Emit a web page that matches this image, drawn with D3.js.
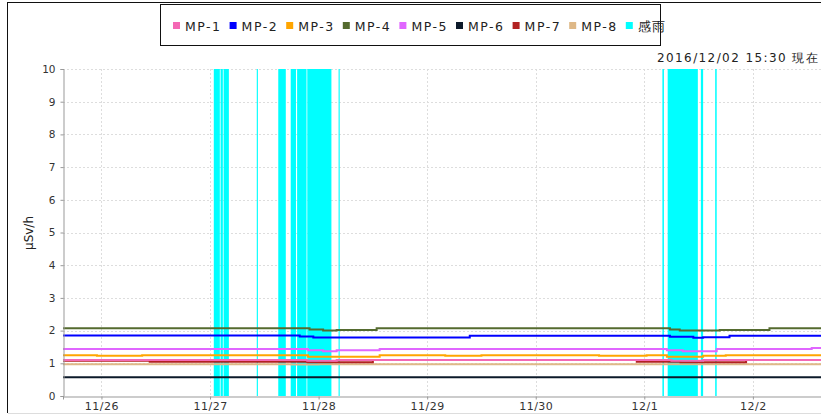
<!DOCTYPE html><html>
<head>
<meta charset="utf-8">
<title>MP</title>
<style>
  body { margin: 0; background: #fff; }
  svg { display: block; font-family: "DejaVu Sans", sans-serif; }
</style>
</head><body>
<svg width="821" height="416"></svg>

<script src="https://cdn.jsdelivr.net/npm/d3@7/dist/d3.min.js"></script>
<script>
// series names, legend order
var names  = ['MP-1', 'MP-2', 'MP-3', 'MP-4', 'MP-5', 'MP-6', 'MP-7', 'MP-8', '感雨'];
var colors = ['#f468b4', '#0000ff', '#ffa500', '#556b2f', '#e066ff', '#0c1a2a', '#b22222', '#deb887', '#00ffff'];

// change points [time, μSv/h], each value holds until the next point
var mp1 = [['11-25 15:30', 1.10], ['11-27 21:30', 1.08], ['11-28 04:00', 1.10], ['12-01 06:00', 1.08], ['12-01 13:00', 1.10]];
var mp2 = [['11-25 15:30', 1.85], ['11-27 19:50', 1.82], ['11-27 22:50', 1.79], ['11-29 09:25', 1.84],
           ['12-01 05:40', 1.81], ['12-01 10:50', 1.78], ['12-01 13:00', 1.80], ['12-01 18:50', 1.84]];
var mp3 = [['11-25 15:30', 1.25], ['11-25 23:00', 1.23], ['11-26 09:00', 1.25], ['11-27 21:40', 1.20],
           ['11-28 13:30', 1.25], ['11-29 04:00', 1.23], ['11-29 12:00', 1.25], ['11-30 14:00', 1.23],
           ['12-01 00:30', 1.25], ['12-01 05:00', 1.20], ['12-01 13:00', 1.23], ['12-01 18:00', 1.25]];
var mp4 = [['11-25 15:30', 2.07], ['11-27 22:00', 2.03], ['11-28 01:00', 2.00], ['11-28 04:00', 2.02],
           ['11-28 12:50', 2.07], ['12-01 05:40', 2.03], ['12-01 07:50', 2.00], ['12-01 16:40', 2.02],
           ['12-02 03:40', 2.07]];
var mp5 = [['11-25 15:30', 1.44], ['11-27 21:40', 1.40], ['11-28 01:00', 1.37], ['11-28 04:00', 1.40],
           ['11-28 13:30', 1.44], ['12-01 05:00', 1.40], ['12-01 08:30', 1.37], ['12-01 16:00', 1.44],
           ['12-02 13:00', 1.47]];
var mp6 = [['11-25 15:30', 0.57]];
var mp7 = [['11-25 15:30', 1.08], ['11-26 10:40', 1.05], ['11-27 21:30', 1.03], ['11-28 12:00', 1.10],
           ['11-30 22:20', 1.05], ['12-01 08:00', 1.03], ['12-01 22:30', 1.10]];
var mp8 = [['11-25 15:30', 0.97], ['11-27 18:00', 0.96], ['11-28 00:00', 0.97]];
var series = [mp1, mp2, mp3, mp4, mp5, mp6, mp7, mp8];

// rain detected (感雨) periods [from, to]
var rain = [['11-27 00:50', '11-27 02:10'], ['11-27 02:20', '11-27 02:50'], ['11-27 03:00', '11-27 04:10'],
            ['11-27 10:20', '11-27 10:35'], ['11-27 15:05', '11-27 16:45'], ['11-27 17:50', '11-27 19:00'],
            ['11-27 19:15', '11-27 21:20'], ['11-27 21:30', '11-28 02:50'], ['11-28 04:25', '11-28 04:40'],
            ['12-01 04:00', '12-01 04:20'], ['12-01 05:10', '12-01 11:50'], ['12-01 12:30', '12-01 13:00'],
            ['12-01 15:40', '12-01 16:00']];

var yTicks = [0, 1, 2, 3, 4, 5, 6, 7, 8, 9, 10];
var start = '11-25 15:30', end = '12-02 15:30';
var stamp = '2016/12/02 15:30 現在';

var parse = d3.timeParse('%Y-%m-%d %H:%M');
function t(s) { return parse('2016-' + s); }

var svg = d3.select('svg');
var x = d3.scaleTime().domain([t(start), t(end)]).range([63, 823]);
var y = d3.scaleLinear().domain([0, 10]).range([396, 69]);
var days = d3.timeDay.range(d3.timeDay.ceil(t(start)), t(end));

// outer frame
svg.append('line').attr('x1', 7.5).attr('x2', 7.5).attr('y1', 2).attr('y2', 413).attr('stroke', '#111');
svg.append('line').attr('x1', 7).attr('x2', 821).attr('y1', 2.5).attr('y2', 2.5).attr('stroke', '#111');
svg.append('line').attr('x1', 8).attr('x2', 821).attr('y1', 413.5).attr('y2', 413.5).attr('stroke', '#ddd');

// grid
svg.append('g').selectAll('line').data(yTicks.slice(1)).enter().append('line')
    .attr('x1', 63).attr('x2', 823)
    .attr('y1', function(d) { return Math.round(y(d)) + 0.5; })
    .attr('y2', function(d) { return Math.round(y(d)) + 0.5; })
    .attr('stroke', '#ddd').attr('stroke-dasharray', '2,2');
svg.append('g').selectAll('line').data(days).enter().append('line')
    .attr('x1', function(d) { return Math.round(x(d)) + 0.5; })
    .attr('x2', function(d) { return Math.round(x(d)) + 0.5; })
    .attr('y1', 69).attr('y2', 396)
    .attr('stroke', '#ddd').attr('stroke-dasharray', '2,2');

// rain bars
svg.append('g').selectAll('rect').data(rain).enter().append('rect')
    .attr('x', function(d) { return x(t(d[0])); })
    .attr('width', function(d) { return Math.max(1, x(t(d[1])) - x(t(d[0]))); })
    .attr('y', y(10)).attr('height', y(0) - y(10))
    .attr('fill', colors[8]);

// lines, drawn last to first so MP-1 sits on top
var line = d3.line()
    .x(function(d) { return x(d[0]); })
    .y(function(d) { return y(d[1]); })
    .curve(d3.curveStepAfter);
d3.range(series.length - 1, -1, -1).forEach(function(i) {
  var pts = series[i].map(function(d) { return [t(d[0]), d[1]]; });
  pts.push([t(end), series[i][series[i].length - 1][1]]);
  svg.append('path').datum(pts)
      .attr('d', line)
      .attr('fill', 'none')
      .attr('stroke', colors[i])
      .attr('stroke-width', 2);
});

// axes
var yAxis = svg.append('g').attr('transform', 'translate(63.5,0)')
    .call(d3.axisLeft(y).tickValues(yTicks).tickSize(3).tickPadding(5));
var xAxis = svg.append('g').attr('transform', 'translate(0,396.5)')
    .call(d3.axisBottom(x).tickValues(days).tickSize(3).tickFormat(d3.timeFormat('%-m/%-d')));
[yAxis, xAxis].forEach(function(g) {
  g.select('.domain').attr('stroke', '#999');
  g.selectAll('.tick line').attr('stroke', '#999');
  g.selectAll('text').attr('fill', '#333').attr('font-family', '"DejaVu Sans", sans-serif');
});
yAxis.selectAll('text').attr('font-size', 10.5);
xAxis.selectAll('text').attr('font-size', 11).attr('letter-spacing', 0.5).attr('y', 6);

svg.append('text')
    .attr('transform', 'translate(33,233) rotate(-90)')
    .attr('text-anchor', 'middle').attr('font-size', 12).attr('fill', '#222')
    .text('μSv/h');

svg.append('text')
    .attr('x', 657).attr('y', 62)
    .attr('font-size', 12).attr('letter-spacing', 1.4).attr('fill', '#222')
    .text(stamp);

// legend
var legend = svg.append('g');
legend.append('rect').attr('x', 160.5).attr('y', 4.5).attr('width', 500).attr('height', 41)
    .attr('fill', '#fff').attr('stroke', '#111');
var item = legend.selectAll('g').data(names).enter().append('g')
    .attr('transform', function(d, i) { return 'translate(' + (173 + i * 56.6) + ',0)'; });
item.append('rect').attr('y', 22).attr('width', 7).attr('height', 7)
    .attr('fill', function(d, i) { return colors[i]; });
item.append('text').attr('x', 12).attr('y', 30.5)
    .attr('font-size', 12.5).attr('letter-spacing', 1.5).attr('fill', '#222')
    .text(function(d) { return d; });
</script>
</body></html>
